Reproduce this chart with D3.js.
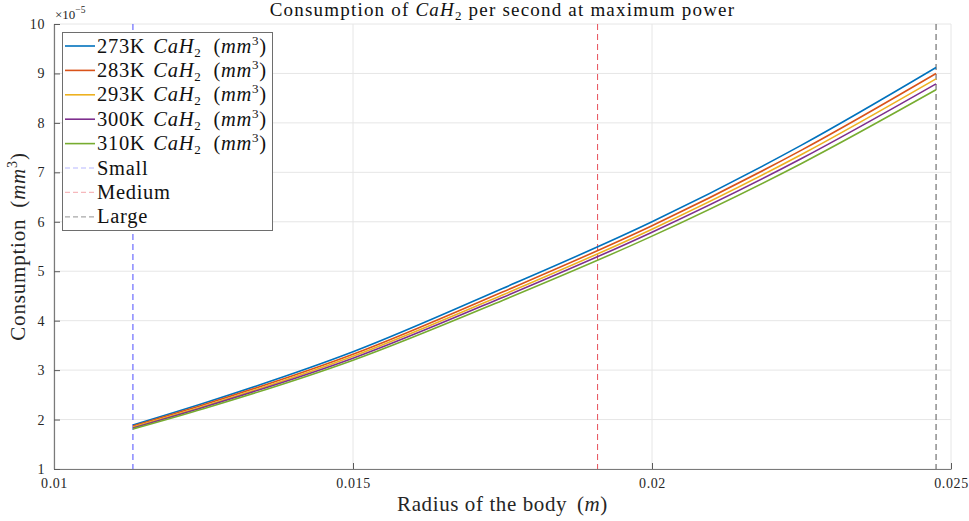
<!DOCTYPE html>
<html>
<head>
<meta charset="utf-8">
<script src="https://cdn.jsdelivr.net/npm/d3@7"></script>
<style>
  html, body { margin: 0; padding: 0; background: #fff; }
  svg { display: block; font-family: "Liberation Serif", "DejaVu Serif", serif; }
</style>
</head>
<body>
<svg id="chart" width="969" height="521"></svg>
<script>
// Body radius samples (m)
const radius = [0.01132, 0.0125, 0.015, 0.0175, 0.02, 0.0225, 0.02475];

// CaH2 consumption per second (x 1e-5 mm^3) for each temperature
const cons273 = [1.89, 2.33, 3.37, 4.65, 6.00, 7.55, 9.12];
const cons283 = [1.87, 2.30, 3.32, 4.58, 5.92, 7.45, 9.00];
const cons293 = [1.85, 2.27, 3.28, 4.52, 5.85, 7.36, 8.89];
const cons300 = [1.83, 2.25, 3.24, 4.47, 5.79, 7.28, 8.79];
const cons310 = [1.81, 2.22, 3.20, 4.41, 5.71, 7.18, 8.67];

const temps = ["273K", "283K", "293K", "300K", "310K"];
const seriesColors = ["#0072BD", "#D95319", "#EDB120", "#7E2F8E", "#77AC30"];

// Body size markers (radius, m)
const sizeNames = ["Small", "Medium", "Large"];
const sizeRadius = [0.01132, 0.01909, 0.02475];
const sizeColors = ["#4d4dff", "#e8505a", "#555555"];
const sizeLegendColors = ["#b8b8ff", "#f6b8bc", "#a8a8a8"];

const xTicks = [0.01, 0.015, 0.02, 0.025];
const xTickLabels = ["0.01", "0.015", "0.02", "0.025"];
const yTicks = [1, 2, 3, 4, 5, 6, 7, 8, 9, 10];

const svg = d3.select("#chart");
const plotL = 54, plotR = 951, plotT = 24, plotB = 469;

const x = d3.scaleLinear().domain([0.01, 0.025]).range([plotL, plotR]);
const y = d3.scaleLinear().domain([1, 10]).range([plotB, plotT]);

// grid
const grid = svg.append("g");
grid.selectAll("line.gx").data(xTicks).join("line")
  .attr("x1", d => x(d)).attr("x2", d => x(d))
  .attr("y1", plotT).attr("y2", plotB)
  .attr("stroke", "#e6e6e6").attr("stroke-width", 1);
grid.selectAll("line.gy").data(yTicks).join("line")
  .attr("y1", d => y(d)).attr("y2", d => y(d))
  .attr("x1", plotL).attr("x2", plotR)
  .attr("stroke", "#e6e6e6").attr("stroke-width", 1);

// axes (ticks pointing inward)
const xAxis = d3.axisBottom(x).tickValues(xTicks)
  .tickFormat((d, i) => xTickLabels[i]).tickSizeInner(-6).tickSizeOuter(0).tickPadding(9);
const yAxis = d3.axisLeft(y).tickValues(yTicks)
  .tickFormat(d3.format("d")).tickSizeInner(-6).tickSizeOuter(0).tickPadding(9);

const gx = svg.append("g").attr("transform", `translate(0,${plotB})`).call(xAxis);
const gy = svg.append("g").attr("transform", `translate(${plotL},0)`).call(yAxis);
[gx, gy].forEach(g => {
  g.select(".domain").attr("stroke", "#7a7a7a").attr("stroke-width", 1.2);
  g.selectAll(".tick line").attr("stroke", "#5a5a5a");
  g.selectAll(".tick text").attr("fill", "#262626")
    .style("font-family", "Liberation Serif, serif").style("font-size", "14px")
    .style("letter-spacing", "0.6px");
});

// size marker lines
svg.append("g").selectAll("line").data(sizeRadius).join("line")
  .attr("x1", d => x(d)).attr("x2", d => x(d))
  .attr("y1", plotT).attr("y2", plotB)
  .attr("stroke", (d, i) => sizeColors[i]).attr("stroke-width", 1)
  .attr("stroke-dasharray", "6,4");

// curves
const series = [cons273, cons283, cons293, cons300, cons310];
const line = d3.line()
  .x((d, i) => x(radius[i]))
  .y(d => y(d))
  .curve(d3.curveMonotoneX);
svg.append("g").selectAll("path").data(series).join("path")
  .attr("d", d => line(d))
  .attr("fill", "none")
  .attr("stroke", (d, i) => seriesColors[i])
  .attr("stroke-width", 1.6);

// exponent marker
const mult = svg.append("text").attr("x", plotL + 1).attr("y", 19)
  .attr("fill", "#262626").style("font-size", "13px");
mult.append("tspan").text("×10");
mult.append("tspan").attr("dy", -6).style("font-size", "9.5px").text("−5");

// title
const title = svg.append("text").attr("x", (plotL + plotR) / 2).attr("y", 16)
  .attr("text-anchor", "middle").attr("fill", "#111")
  .style("font-size", "19px").style("letter-spacing", "1.2px");
title.append("tspan").text("Consumption of ");
title.append("tspan").style("font-style", "italic").text("CaH");
title.append("tspan").attr("dy", 4).style("font-size", "13px").text("2");
title.append("tspan").attr("dy", -4).text(" per second at maximum power");

// x label
const xl = svg.append("text").attr("x", (plotL + plotR) / 2).attr("y", 511)
  .attr("text-anchor", "middle").attr("fill", "#262626")
  .style("font-size", "21px").style("letter-spacing", "0.6px");
xl.append("tspan").text("Radius of the body ");
xl.append("tspan").attr("dx", 4).text("(");
xl.append("tspan").style("font-style", "italic").text("m");
xl.append("tspan").text(")");

// y label
const yl = svg.append("text")
  .attr("transform", `translate(25,${(plotT + plotB) / 2}) rotate(-90)`)
  .attr("text-anchor", "middle").attr("fill", "#262626")
  .style("font-size", "21px").style("letter-spacing", "0.8px");
yl.append("tspan").text("Consumption ");
yl.append("tspan").attr("dx", 5).text("(");
yl.append("tspan").style("font-style", "italic").text("mm");
yl.append("tspan").attr("dy", -8).style("font-size", "14px").text("3");
yl.append("tspan").attr("dy", 8).text(")");

// legend
const lg = svg.append("g");
lg.append("rect").attr("x", 62.5).attr("y", 32.5).attr("width", 210).attr("height", 198)
  .attr("fill", "#fff").attr("stroke", "#6e6e6e").attr("stroke-width", 1);
const rowY = i => 46 + i * 24.4;
const entries = temps.map((t, i) => ({ kind: "s", label: t, color: seriesColors[i], dash: null }))
  .concat(sizeNames.map((n, i) => ({ kind: "z", label: n, color: sizeLegendColors[i], dash: "5,3" })));
entries.forEach((e, i) => {
  const yy = rowY(i);
  lg.append("line").attr("x1", 65).attr("x2", 95).attr("y1", yy).attr("y2", yy)
    .attr("stroke", e.color).attr("stroke-width", e.kind === "s" ? 1.6 : 1.2)
    .attr("stroke-dasharray", e.dash);
  const t = lg.append("text").attr("x", 97).attr("y", yy + 6.5)
    .attr("fill", "#111").style("font-size", "20.5px").style("letter-spacing", "0.7px");
  if (e.kind === "s") {
    t.append("tspan").text(e.label);
    t.append("tspan").attr("dx", 8).style("font-style", "italic").text("CaH");
    t.append("tspan").attr("dy", 4).style("font-size", "13px").text("2");
    t.append("tspan").attr("dy", -4).attr("dx", 12).text("(");
    t.append("tspan").style("font-style", "italic").text("mm");
    t.append("tspan").attr("dy", -8).style("font-size", "13px").text("3");
    t.append("tspan").attr("dy", 8).text(")");
  } else {
    t.text(e.label);
  }
});
</script>
</body>
</html>
